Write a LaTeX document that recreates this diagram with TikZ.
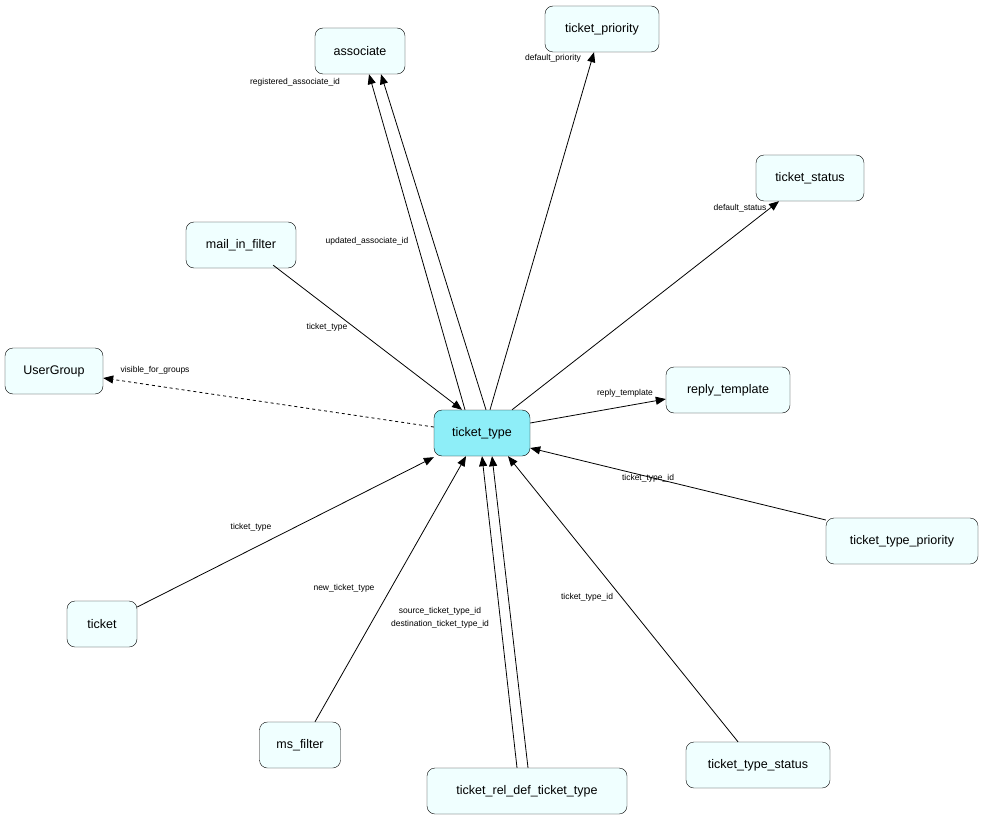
\documentclass[tikz,border=0pt]{standalone}
\usepackage{fontspec}
\setmainfont{Liberation Sans}
\usetikzlibrary{arrows.meta}
\begin{document}
\begin{tikzpicture}[x=1pt,y=-1pt,
  tbl/.style={draw, rounded corners=8pt, fill={rgb,255:red,240;green,255;blue,255}, minimum height=46pt, inner xsep=10pt, font=\fontsize{12.5}{14}\selectfont},
  rel/.style={line width=0.8pt, -{Triangle[length=10pt,width=8pt]}},
  lbl/.style={font=\fontsize{8.5}{9}\selectfont, inner sep=0.75pt}]
\useasboundingbox (0,0) rectangle (984,821);

% Tables
\node [tbl, fill={rgb,255:red,142;green,238;blue,248}, minimum width=96pt] (tt) at (482,433) {ticket\_type};
\node [tbl, minimum width=90pt] (as) at (360,51) {associate};
\node [tbl, minimum width=114pt] (tp) at (602,29) {ticket\_priority};
\node [tbl, minimum width=108pt] (ts) at (810,178) {ticket\_status};
\node [tbl, minimum width=110pt] (mf) at (241,245) {mail\_in\_filter};
\node [tbl, minimum width=98pt] (ug) at (54,371) {UserGroup};
\node [tbl, minimum width=124pt] (rt) at (728,390) {reply\_template};
\node [tbl, minimum width=152pt] (ttp) at (902,541) {ticket\_type\_priority};
\node [tbl, minimum width=70pt] (tk) at (102,624) {ticket};
\node [tbl, minimum width=81pt] (ms) at (300,745) {ms\_filter};
\node [tbl, minimum width=200pt] (rd) at (527,791) {ticket\_rel\_def\_ticket\_type};
\node [tbl, minimum width=144pt] (tts) at (758,765) {ticket\_type\_status};

% Relations
\draw [rel] ([xshift=-17pt]tt.north) -- ([xshift=9pt]as.south);
\draw [rel] ([xshift=4pt]tt.north) -- ([xshift=21pt]as.south);
\draw [rel] ([xshift=8pt]tt.north) -- ([xshift=-8pt]tp.south);
\draw [rel] ([xshift=30pt]tt.north) -- ([xshift=-31pt]ts.south);
\draw [rel] (mf.south east) ++(-23pt,3pt) -- ([xshift=-20pt]tt.north);
\draw [rel, dashed] ([yshift=6pt]tt.west) -- ([yshift=-7pt]ug.east);
\draw [rel] ([yshift=10pt]tt.east) -- ([yshift=-9pt]rt.west);
\draw [rel] ([yshift=21pt]ttp.west) -- ([yshift=-15pt]tt.east);
\draw [rel] ([yshift=17pt]tk.east) -- ([yshift=-1pt]tt.south west);
\draw [rel] ([xshift=15pt]ms.north) -- ([xshift=-16pt]tt.south);
\draw [rel] ([xshift=-10pt]rd.north) -- (tt.south);
\draw [rel] ([xshift=1pt]rd.north) -- ([xshift=10pt]tt.south);
\draw [rel] ([xshift=-20pt]tts.north) -- ([xshift=26pt]tt.south);

% Labels
\node [lbl] (l1) at (295,82) {registered\_associate\_id};
\node [lbl] (l2) at (367,241) {updated\_associate\_id};
\node [lbl] (l3) at (553,58) {default\_priority};
\node [lbl] (l4) at (740,208) {default\_status};
\node [lbl] (l5) at (327,327) {ticket\_type};
\node [lbl] (l6) at (155,370) {visible\_for\_groups};
\node [lbl] (l7) at (625,393) {reply\_template};
\node [lbl] (l8) at (648,478) {ticket\_type\_id};
\node [lbl] (l9) at (251,527) {ticket\_type};
\node [lbl] (l10) at (344,588) {new\_ticket\_type};
\node [lbl] (l11) at (440,611) {source\_ticket\_type\_id};
\node [lbl] (l12) at (440,624) {destination\_ticket\_type\_id};
\node [lbl] (l13) at (587,597) {ticket\_type\_id};
\end{tikzpicture}
\end{document}
